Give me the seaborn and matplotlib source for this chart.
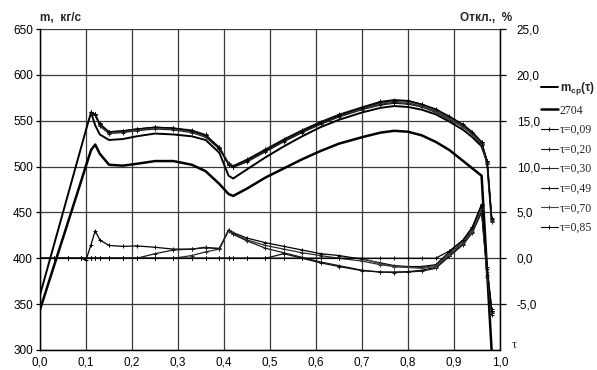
import numpy as np
import pandas as pd
import matplotlib
matplotlib.use("Agg")
import matplotlib.pyplot as plt
import seaborn as sns
from matplotlib.ticker import FuncFormatter, FixedLocator

nan = np.nan

tau = [0.00, 0.03, 0.06, 0.09, 0.10, 0.111, 0.12, 0.13, 0.15, 0.18, 0.21, 0.25,
       0.29, 0.33, 0.36, 0.39, 0.41, 0.42, 0.45, 0.49, 0.53, 0.57, 0.61, 0.65,
       0.70, 0.74, 0.77, 0.80, 0.83, 0.86, 0.89, 0.92, 0.94, 0.96, 0.972, 0.982]

m_cp = [360, 414, 468, 522, 540, 559, 545, 535, 529, 530, 533, 536, 535, 533, 529, 515,
        490, 487, 497, 510, 522, 533, 543, 551, 559, 564, 566, 565, 562, 557, 549, 540,
        532, 522, 505, 440]
m_2704 = [344, 391, 438, 485, 501, 518, 524, 514, 502, 501, 503, 506, 506, 502, 495, 481,
          470, 468, 476, 488, 498, 508, 517, 525, 532, 537, 539, 538, 534, 527, 518, 506,
          498, 490, nan, 298]

m_t09 = [nan] * 5 + [559, 557, 547, 538, 539, 541, 543, 542, 539, 534, 521, 503, 501, 508, 519, 530,
                     540, 549, 557, 565, 571, 573, 572, 568, 562, 554, 545, 537, 527, 506, 444]
m_t20 = [nan] * 5 + [559, 556, 545, 537, 538, 540, 542, 541, 538, 533, 520, 503, 500, 506, 517, 528,
                     538, 547, 555, 563, 568, 570, 569, 566, 560, 552, 543, 535, 525, 504, 441]
m_t30 = [nan] * 5 + [559, 557, 546, 537, 538, 540, 542, 542, 540, 535, 521, 504, 500, 507, 518, 529,
                     539, 548, 556, 564, 570, 572, 571, 567, 561, 553, 544, 536, 526, 505, 442]
m_t49 = [nan] * 5 + [559, 556, 544, 536, 537, 539, 541, 540, 537, 532, 519, 502, 499, 505, 516, 527,
                     537, 546, 554, 562, 567, 569, 568, 565, 559, 551, 543, 535, 524, 503, 440]
m_t70 = [nan] * 5 + [559, 557, 545, 537, 538, 540, 542, 541, 538, 533, 520, 503, 500, 507, 518, 529,
                     539, 548, 556, 563, 569, 571, 570, 566, 560, 552, 543, 535, 525, 504, 441]
m_t85 = [nan] * 5 + [559, 557, 546, 538, 539, 541, 543, 542, 539, 534, 520, 502, 500, 507, 518, 529,
                     539, 548, 556, 564, 570, 572, 572, 568, 563, 555, 546, 538, 527, 506, 443]

d_t09 = [0, 0, 0, 0, -0.2, 1.5, 3.0, 2.0, 1.4, 1.3, 1.35, 1.2, 1.0, 1.0, 1.2, 1.0, 3.1, 2.8,
         2.2, 1.7, 1.3, 0.9, 0.5, 0.3, -0.1, -0.5, -0.8, -0.9, -0.9, -0.7, 0.7, 2.0, 3.4, 5.8,
         -1.0, -5.5]
d_t20 = [0] * 11 + [0.5, 0.9, 1.0, 1.15, 1.1, 3.0, 2.6, 1.9, 1.1, 0.6, 0.1, -0.4, -0.8, -1.3,
                    -1.5, -1.55, -1.5, -1.4, -1.1, 0.2, 1.5, 2.8, 5.0, -2.0, -6.2]
d_t30 = [0] * 13 + [0.3, 0.7, 1.0, 3.1, 2.7, 2.0, 1.4, 1.0, 0.6, 0.3, 0.0, -0.3, -0.7, -0.9,
                    -1.0, -1.0, -0.8, 0.5, 1.8, 3.2, 5.5, -1.0, -5.8]
d_t49 = [0] * 20 + [0.5, 0.0, -0.5, -0.9, -1.35, -1.5, -1.5, -1.45, -1.3, -1.0, 0.3, 1.6, 2.9,
                    5.2, -1.8, -6.0]
d_t70 = [0] * 25 + [-0.6, -0.9, -1.0, -1.1, -0.9, 0.4, 1.7, 3.0, 5.4, -1.5, -5.9]
d_t85 = [0] * 30 + [0.8, 2.0, 3.4, 5.9, -1.2, -5.7]

tau_labels = ["τ=0,09", "τ=0,20", "τ=0,30", "τ=0,49", "τ=0,70", "τ=0,85"]
mass_series = [m_t09, m_t20, m_t30, m_t49, m_t70, m_t85]
dev_series = [d_t09, d_t20, d_t30, d_t49, d_t70, d_t85]
tau_colors = ["#000000", "#1a1a1a", "#2a2a2a", "#111111", "#444444", "#000000"]

left_ticks = [300, 350, 400, 450, 500, 550, 600, 650]
right_ticks = [-5, 0, 5, 10, 15, 20, 25]
x_ticks = [0.0, 0.1, 0.2, 0.3, 0.4, 0.5, 0.6, 0.7, 0.8, 0.9, 1.0]

sns.set_theme(style="white")
plt.rcParams['font.family'] = ['Liberation Sans', 'DejaVu Sans']
plt.rcParams['mathtext.fontset'] = 'custom'
plt.rcParams['mathtext.rm'] = 'Liberation Sans'
plt.rcParams['mathtext.bf'] = 'Liberation Sans:bold'
plt.rcParams['mathtext.it'] = 'Liberation Sans:italic'

W, H = 597, 370
fig = plt.figure(figsize=(W / 100, H / 100), dpi=100)
ax = fig.add_axes([40 / W, 20 / H, 460 / W, 321 / H])
ax2 = ax.twinx()


def frame(x, y):
    return pd.DataFrame({"t": x, "v": y}).dropna()


sns.lineplot(data=frame(tau, m_2704), x="t", y="v", ax=ax, color="black", lw=1.8,
             sort=False, label="2704", legend=False)
sns.lineplot(data=frame(tau, m_cp), x="t", y="v", ax=ax, color="black", lw=1.4,
             sort=False, label=r"$\mathbf{m_{ср}(τ)}$", legend=False)

mk = dict(marker="+", markersize=3, markeredgewidth=0.7)
for ys, lab, c in zip(mass_series, tau_labels, tau_colors):
    sns.lineplot(data=frame(tau, ys), x="t", y="v", ax=ax, color=c, lw=0.8,
                 markeredgecolor=c, markerfacecolor=c, sort=False,
                 label=lab, legend=False, **mk)

for ys, c in zip(dev_series, tau_colors):
    sns.lineplot(data=frame(tau, ys), x="t", y="v", ax=ax2, color=c, lw=0.9,
                 markeredgecolor=c, markerfacecolor=c, sort=False,
                 legend=False, **mk)

ax.set_xlim(0, 1.0)
ax.set_ylim(300, 650)
ax2.set_ylim(-10, 25)

ax.xaxis.set_major_locator(FixedLocator(x_ticks))
ax.yaxis.set_major_locator(FixedLocator(left_ticks))
ax2.yaxis.set_major_locator(FixedLocator(right_ticks))
ax.xaxis.set_major_formatter(FuncFormatter(lambda v, p: f"{v:.1f}".replace(".", ",")))
ax.yaxis.set_major_formatter(FuncFormatter(lambda v, p: f"{v:.0f}"))
ax2.yaxis.set_major_formatter(FuncFormatter(lambda v, p: f"{v:.1f}".replace(".", ",")))

ax.grid(True, color="#3a3a3a", lw=0.9)
ax2.grid(False)
ax.set_axisbelow(True)
ax.set_xlabel("")
ax.set_ylabel("")
ax2.set_ylabel("")

for a in (ax, ax2):
    for s in a.spines.values():
        s.set_color("black")
        s.set_linewidth(0.9)
ax.spines["top"].set_visible(False)
ax2.spines["top"].set_visible(False)

ax.tick_params(axis="x", length=0, pad=5, labelsize=8.5, colors="black")
ax.tick_params(axis="y", direction="out", length=3, width=0.9, pad=2, labelsize=8.5,
               colors="black", left=True)
ax2.tick_params(axis="y", direction="out", length=4, width=0.9, pad=8, labelsize=8.5,
                colors="black", right=True)

fig.text(40 / W, 1 - 18 / H, "m,  кг/с", fontsize=8.5, fontweight="bold",
         ha="left", va="center")
fig.text(512 / W, 1 - 18 / H, "Откл.,  %", fontsize=8.5, fontweight="bold",
         ha="right", va="center")
fig.text(512 / W, 1 - 345 / H, "τ", fontsize=9, family="Liberation Serif",
         ha="left", va="center")

handles, labels = ax.get_legend_handles_labels()
order = [1, 0, 2, 3, 4, 5, 6, 7]
handles = [handles[i] for i in order]
labels = [labels[i] for i in order]
leg = fig.legend(handles, labels, loc="upper left", bbox_to_anchor=(541 / W, 1 - 80 / H),
                 frameon=False, handlelength=1.4, handletextpad=0.2,
                 labelspacing=0.64, borderpad=0, borderaxespad=0,
                 prop={"family": "Liberation Serif", "size": 8.5})
for t in leg.get_texts():
    if t.get_text().startswith("$"):
        t.set_fontweight("bold")
        t.set_family("Liberation Sans")

fig.savefig("out.png", dpi=100)
